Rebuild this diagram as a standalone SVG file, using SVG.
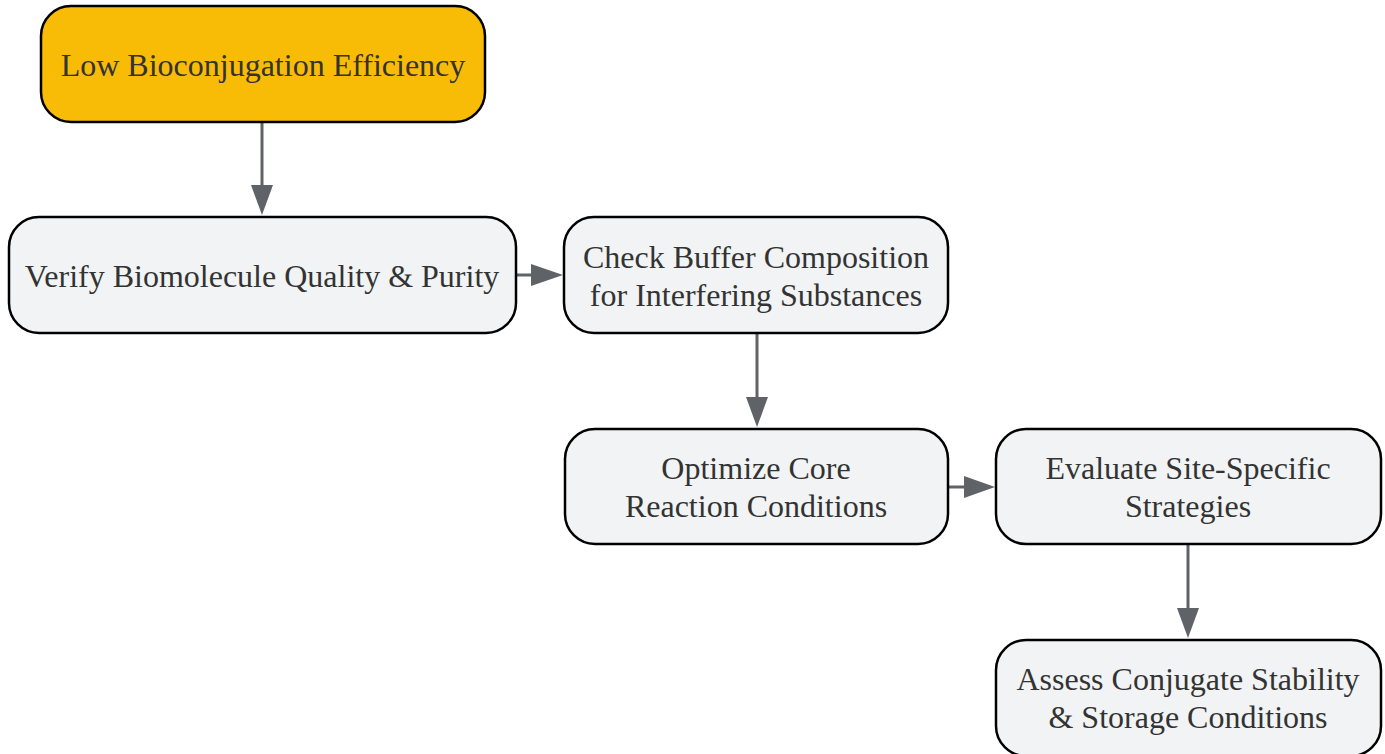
<svg xmlns="http://www.w3.org/2000/svg" width="1385" height="754" viewBox="0 0 1385 754">
<defs>
<style>
.node rect{fill:#F1F3F4;stroke:#000;stroke-width:2.5}
.start rect{fill:#F9BC06}
text{font-family:"Liberation Serif","Times New Roman",serif;font-size:32px;fill:#333;text-anchor:middle;dominant-baseline:central}
.edge{stroke:#5F6368;stroke-width:3;fill:none}
</style>
</defs>
<rect width="1385" height="754" fill="#fff"/>
<g id="connectors">
<path class="edge" d="M262,122 V186"/><path d="M251,185 L273,185 L262,215 Z" fill="#5F6368"/>
<path class="edge" d="M516,275 H532"/><path d="M531,264 L531,286 L563,275 Z" fill="#5F6368"/>
<path class="edge" d="M757,333 V398"/><path d="M746,397 L768,397 L757,427 Z" fill="#5F6368"/>
<path class="edge" d="M948,487 H965"/><path d="M964,476 L964,498 L995,487 Z" fill="#5F6368"/>
<path class="edge" d="M1188,544 V609"/><path d="M1177,608 L1199,608 L1188,638 Z" fill="#5F6368"/>
</g>
<g id="n1" class="node start"><rect x="41" y="6" width="444" height="116" rx="30"/><text x="263" y="65">Low Bioconjugation Efficiency</text></g>
<g id="n2" class="node"><rect x="9" y="217" width="507" height="116" rx="30"/><text x="262" y="276">Verify Biomolecule Quality &amp; Purity</text></g>
<g id="n3" class="node"><rect x="564" y="217" width="384" height="116" rx="30"/><text x="756" y="257">Check Buffer Composition</text><text x="756" y="295">for Interfering Substances</text></g>
<g id="n4" class="node"><rect x="565" y="429" width="383" height="115" rx="30"/><text x="756" y="468">Optimize Core</text><text x="756" y="506">Reaction Conditions</text></g>
<g id="n5" class="node"><rect x="996" y="429" width="385" height="115" rx="30"/><text x="1188" y="468">Evaluate Site-Specific</text><text x="1188" y="506">Strategies</text></g>
<g id="n6" class="node"><rect x="996" y="640" width="385" height="116" rx="30"/><text x="1188" y="679">Assess Conjugate Stability</text><text x="1188" y="717">&amp; Storage Conditions</text></g>
</svg>
